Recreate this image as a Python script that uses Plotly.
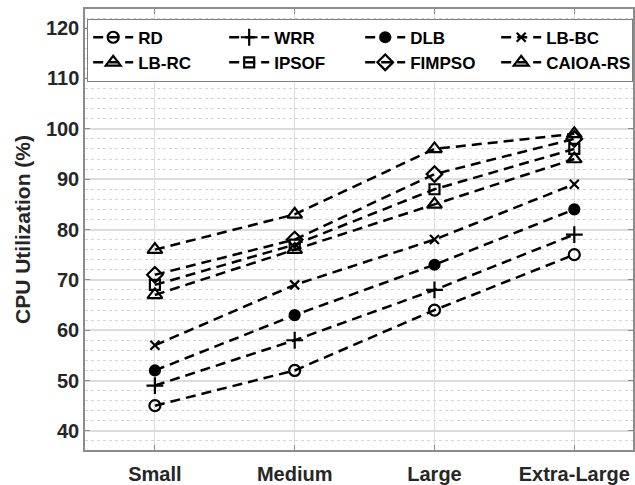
import plotly.graph_objects as go

categories = ["Small", "Medium", "Large", "Extra-Large"]
rd = [45, 52, 64, 75]
wrr = [49, 58, 68, 79]
dlb = [52, 63, 73, 84]
lb_bc = [57, 69, 78, 89]
lb_rc = [67, 76, 85, 94]
ipsof = [69, 77, 88, 96]
fimpso = [71, 78, 91, 98]
caioa_rs = [76, 83, 96, 99]

series = [
    ("RD", rd, "circle-open", 11),
    ("WRR", wrr, "cross-thin-open", 12),
    ("DLB", dlb, "circle", 10),
    ("LB-BC", lb_bc, "x-thin-open", 9),
    ("LB-RC", lb_rc, "triangle-up-open", 13),
    ("IPSOF", ipsof, "square-open", 10),
    ("FIMPSO", fimpso, "diamond-open", 12),
    ("CAIOA-RS", caioa_rs, "triangle-up-open", 13),
]

fig = go.Figure()
for name, vals, sym, size in series:
    fig.add_trace(go.Scatter(
        x=list(range(len(categories))), y=vals, name=name, mode="lines+markers",
        line=dict(color="black", width=2.5, dash="10px,6px"),
        marker=dict(symbol=sym, size=size, color="black",
                    line=dict(color="black", width=2.2)),
    ))

font_family = "Liberation Sans, Arial, sans-serif"
fig.update_layout(
    width=635, height=485,
    margin=dict(l=85, r=0, t=9, b=34),
    paper_bgcolor="white", plot_bgcolor="white",
    font=dict(family=font_family, color="#262626"),
    showlegend=True,
    legend=dict(
        orientation="h", x=0.004, y=0.978, xanchor="left", yanchor="top",
        bgcolor="white", bordercolor="#7f7f7f", borderwidth=1,
        font=dict(size=17, family=font_family, color="black", weight="bold"),
        entrywidth=81, itemwidth=40, tracegroupgap=0,
    ),
    xaxis=dict(
        tickmode="array", tickvals=list(range(len(categories))), ticktext=categories,
        range=[-0.5, 3.42],
        showgrid=True, gridcolor="#dcdcdc", gridwidth=1,
        showline=True, linecolor="#8c8c8c", linewidth=1.5, mirror="ticks",
        ticks="inside", ticklen=5, tickcolor="#8c8c8c", ticklabelstandoff=5,
        tickfont=dict(size=20, family=font_family, color="#262626", weight="bold"),
        zeroline=False,
    ),
    yaxis=dict(
        range=[36.2, 123.8], tickmode="array", tickvals=list(range(40, 121, 10)),
        showgrid=True, gridcolor="#dcdcdc", gridwidth=1.5,
        minor=dict(dtick=2, tick0=0, showgrid=True, gridcolor="#d4d4d4", griddash="dot", gridwidth=1),
        showline=True, linecolor="#8c8c8c", linewidth=1.5, mirror="ticks",
        ticks="inside", ticklen=5, tickcolor="#8c8c8c",
        tickfont=dict(size=20, family=font_family, color="#262626", weight="bold"),
        title=dict(text="CPU Utilization (%)", standoff=10,
                   font=dict(size=21, family=font_family, color="#262626", weight="bold")),
        zeroline=False,
    ),
)

fig.write_html("out.html")
